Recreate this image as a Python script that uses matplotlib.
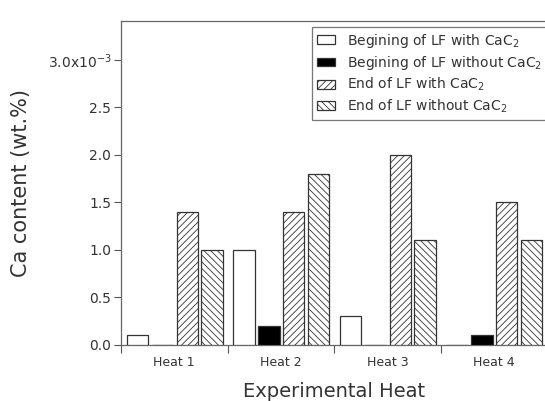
import numpy as np
import matplotlib
matplotlib.use("Agg")
import matplotlib.pyplot as plt
from matplotlib.ticker import FixedLocator, FixedFormatter

# =========================
# Data (Ca content, x1e-3 wt.%)
# =========================
heats = ["Heat 1", "Heat 2", "Heat 3", "Heat 4"]
series_labels = [
    "Begining of LF with CaC$_2$",
    "Begining of LF without CaC$_2$",
    "End of LF with CaC$_2$",
    "End of LF without CaC$_2$",
]
begin_with = [0.1, 1.0, 0.3, 0.0]
begin_without = [0.0, 0.2, 0.0, 0.1]
end_with = [1.4, 1.4, 2.0, 1.5]
end_without = [1.0, 1.8, 1.1, 1.1]

ytick_vals = [0.0, 0.5, 1.0, 1.5, 2.0, 2.5, 3.0]
ytick_labels = ["0.0", "0.5", "1.0", "1.5", "2.0", "2.5", "3.0x10$^{-3}$"]

# =========================
# Style
# =========================
plt.rcParams["font.family"] = "DejaVu Sans"
plt.rcParams["hatch.linewidth"] = 0.6
txt = "#333333"
edge = "#333333"

fig = plt.figure(figsize=(5.45, 4.01), dpi=100)
ax = fig.add_axes([0.222, 0.1397, 0.782, 0.808])

series = [begin_with, begin_without, end_with, end_without]
fills = ["white", "black", "white", "white"]
hatches = [None, None, "/////", "\\\\\\\\\\"]

x = np.arange(len(heats))
offsets = [0.155, 0.388, 0.621, 0.854]
for vals, fc, h, off, lab in zip(series, fills, hatches, offsets, series_labels):
    ax.bar(x + off, vals, width=0.2, color=fc, edgecolor=edge,
           linewidth=0.9, hatch=h, label=lab, zorder=3)

ax.set_xlim(0, 4)
ax.set_ylim(0, 3.41)

ax.yaxis.set_major_locator(FixedLocator(ytick_vals))
ax.yaxis.set_major_formatter(FixedFormatter(ytick_labels))
ax.tick_params(axis="y", direction="out", length=5, width=0.8,
               colors="#555555", labelcolor=txt, labelsize=10, pad=2)

# category labels at group centres, tick marks at group boundaries
ax.set_xticks(x + 0.5)
ax.set_xticklabels(heats)
ax.set_xticks(np.arange(0, 5), minor=True)
ax.tick_params(axis="x", which="major", length=0, labelsize=9,
               labelcolor=txt, pad=8)
ax.tick_params(axis="x", which="minor", direction="out", length=6,
               width=0.8, colors="#555555")

for s in ["left", "bottom", "top"]:
    ax.spines[s].set_color("#666666")
    ax.spines[s].set_linewidth(0.9)
ax.spines["right"].set_visible(False)

ax.set_ylabel("Ca content (wt.%)", fontsize=15, color=txt, labelpad=12)
ax.set_xlabel("Experimental Heat", fontsize=14, color=txt, labelpad=9)

leg = ax.legend(loc="upper right", bbox_to_anchor=(1.0, 0.982),
                fontsize=10, frameon=True, fancybox=False,
                handlelength=1.3, handleheight=0.6, handletextpad=0.9,
                labelspacing=0.3, borderpad=0.35, borderaxespad=0.0,
                labelcolor=txt)
leg.get_frame().set_edgecolor("#555555")
leg.get_frame().set_linewidth(0.9)

fig.savefig("out.png", dpi=100)
